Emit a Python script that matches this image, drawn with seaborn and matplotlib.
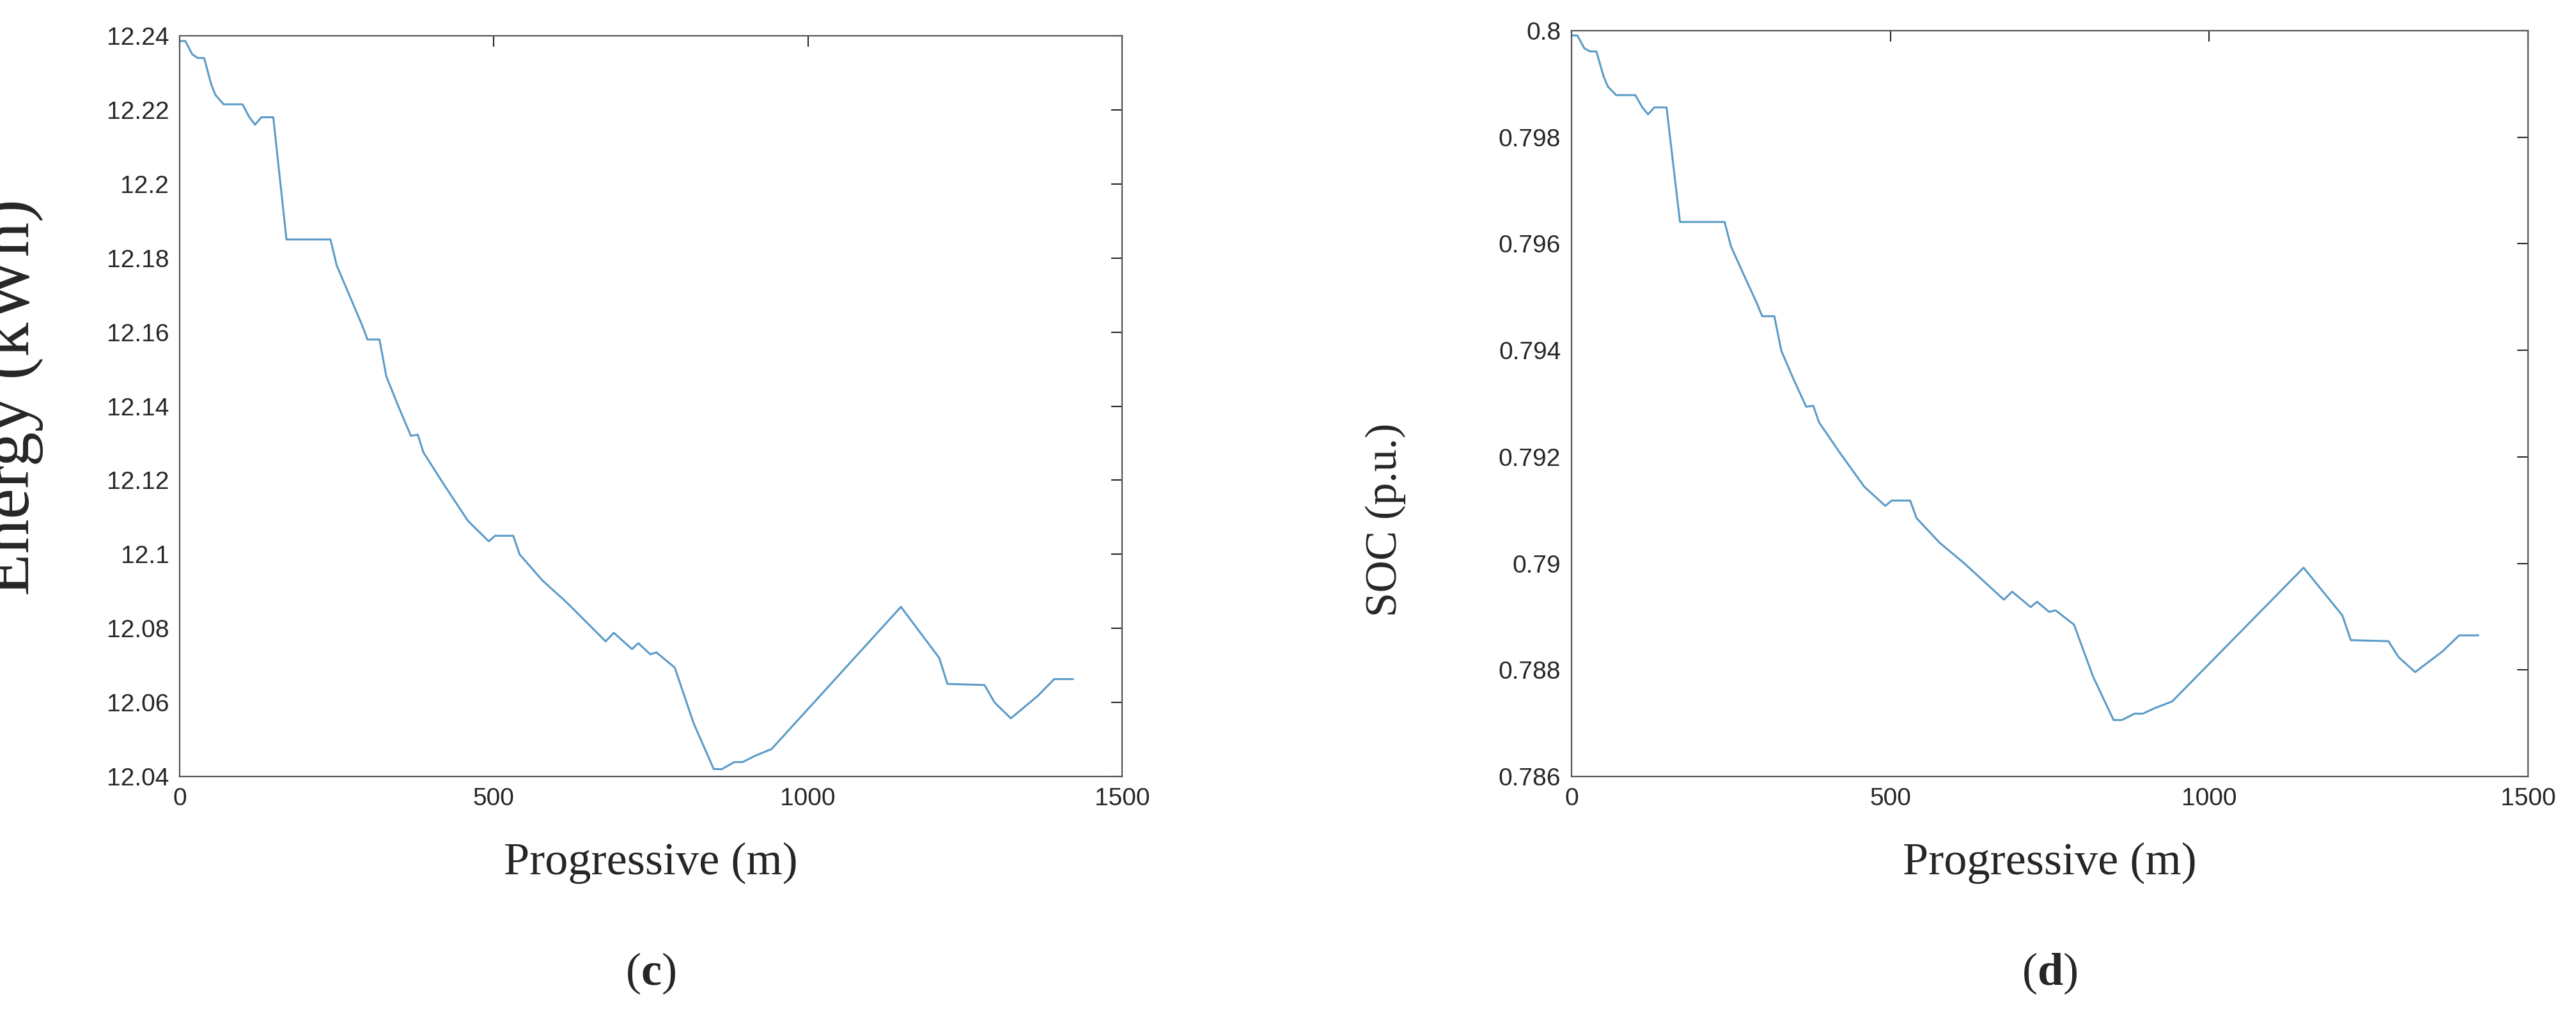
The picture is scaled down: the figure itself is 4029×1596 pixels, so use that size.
import matplotlib
matplotlib.use("Agg")
import matplotlib.pyplot as plt
import seaborn as sns
import pandas as pd
from matplotlib.ticker import FuncFormatter

progressive = [0, 9, 20, 29, 39, 50, 57, 70, 100, 111, 120, 130, 149, 170, 240, 250, 270, 290, 299, 318,
               329, 348, 368, 379, 388, 420, 459, 492, 502, 531, 541, 577, 616, 678, 691, 720, 730, 749, 759, 788,
               818, 850, 863, 883, 896, 916, 942, 1148, 1209, 1222, 1281, 1297, 1323, 1366, 1392, 1422]
energy = [12.2386, 12.2386, 12.235, 12.234, 12.234, 12.227, 12.224, 12.2215, 12.2215, 12.218, 12.216, 12.218,
          12.218, 12.185, 12.185, 12.178, 12.170, 12.162, 12.158, 12.158, 12.148, 12.140, 12.132, 12.1323,
          12.1275, 12.119, 12.109, 12.1035, 12.105, 12.105, 12.100, 12.093, 12.087, 12.0765, 12.0788, 12.0744,
          12.076, 12.073, 12.0735, 12.0694, 12.0544, 12.042, 12.042, 12.0439, 12.0439, 12.0456, 12.0474,
          12.0858, 12.072, 12.065, 12.0647, 12.060, 12.0557, 12.0618, 12.0663, 12.0663]
soc = [0.79991, 0.79991, 0.79967, 0.79961, 0.79961, 0.79915, 0.79895, 0.79879, 0.79879, 0.79856, 0.79843,
       0.79856, 0.79856, 0.79641, 0.79641, 0.79595, 0.79542, 0.79490, 0.79464, 0.79464, 0.79399, 0.79346,
       0.79294, 0.79296, 0.79265, 0.79209, 0.79144, 0.79108, 0.79118, 0.79118, 0.79085, 0.79039, 0.79000,
       0.78932, 0.78947, 0.78918, 0.78928, 0.78909, 0.78912, 0.78885, 0.78787, 0.78706, 0.78706, 0.78718,
       0.78718, 0.78729, 0.78741, 0.78992, 0.78902, 0.78856, 0.78854, 0.78824, 0.78796, 0.78835, 0.78865,
       0.78865]
x_ticks = [0, 500, 1000, 1500]
energy_ticks = [12.04, 12.06, 12.08, 12.10, 12.12, 12.14, 12.16, 12.18, 12.20, 12.22, 12.24]
soc_ticks = [0.786, 0.788, 0.790, 0.792, 0.794, 0.796, 0.798, 0.800]

sns.set_style("white")
plt.rcParams['font.family'] = ['Liberation Sans', 'DejaVu Sans']
plt.rcParams['mathtext.fontset'] = 'custom'
plt.rcParams['mathtext.rm'] = 'Liberation Serif'
plt.rcParams['mathtext.bf'] = 'Liberation Serif:bold'

W, H = 4029, 1596
fig = plt.figure(figsize=(W / 100, H / 100), dpi=100)
df = pd.DataFrame({"x": progressive, "e": energy, "s": soc})

panels = [
    (281, 1755, 56, 1215, "e", energy_ticks, (12.04, 12.24), "Energy (kWh)", "c", 78, (68, 622)),
    (2458, 3954, 48, 1215, "s", soc_ticks, (0.786, 0.800), "SOC (p.u.)", "d", 50, (2199, 813)),
]
fmt = FuncFormatter(lambda v, p: f"{v:.6g}")
for (l, r, t, b, col, yt, yl, ylab, letter, yfs, ypos) in panels:
    ax = fig.add_axes([l / W, 1 - b / H, (r - l) / W, (b - t) / H])
    sns.lineplot(data=df, x="x", y=col, ax=ax, color="#5b9bc8", linewidth=2.2)
    ax.set_xlim(0, 1500)
    ax.set_ylim(*yl)
    ax.set_xticks(x_ticks)
    ax.set_yticks(yt)
    ax.yaxis.set_major_formatter(fmt)
    ax.tick_params(direction="in", length=12, width=1.5, colors="#262626", labelsize=28,
                   top=True, right=True, pad=12)
    for s in ax.spines.values():
        s.set_color("#555555")
        s.set_linewidth(1.6)
    ax.set_xlabel("Progressive (m)", family="Liberation Serif", fontsize=52, labelpad=36)
    ax.set_ylabel(ylab, family="Liberation Serif", fontsize=yfs)
    ax.yaxis.set_label_coords((ypos[0] - l) / (r - l), (b - ypos[1]) / (b - t))
    fig.text((l + r) / 2 / W, 1 - 1523 / H, r"($\mathbf{" + letter + "}$)", ha="center", va="center",
             fontsize=52, family="Liberation Serif")

fig.savefig("out.png", dpi=100, facecolor="white")
